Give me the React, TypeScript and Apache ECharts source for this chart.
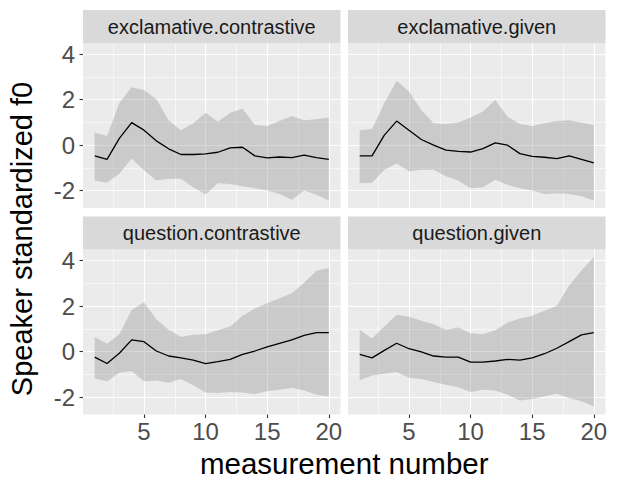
import React, { useEffect, useRef } from "react";
import * as echarts from "echarts";

const measurement = [1, 2, 3, 4, 5, 6, 7, 8, 9, 10, 11, 12, 13, 14, 15, 16, 17, 18, 19, 20];
const facetNames = ["exclamative.contrastive", "exclamative.given", "question.contrastive", "question.given"];

const exclContrMean = [-0.47, -0.62, 0.3, 0.99, 0.66, 0.19, -0.16, -0.41, -0.41, -0.38, -0.31, -0.12, -0.09, -0.47, -0.56, -0.52, -0.55, -0.44, -0.55, -0.62];
const exclContrUpper = [0.56, 0.4, 1.85, 2.55, 2.43, 2.02, 1.1, 0.66, 0.96, 1.43, 1.03, 1.43, 1.6, 0.89, 0.84, 1.06, 1.28, 1.1, 1.14, 1.22];
const exclContrLower = [-1.55, -1.65, -1.25, -0.59, -1.1, -1.55, -1.48, -1.48, -1.85, -2.17, -1.67, -1.7, -1.8, -1.89, -1.99, -2.14, -2.4, -1.99, -2.18, -2.43];

const exclGivenMean = [-0.47, -0.47, 0.44, 1.06, 0.66, 0.25, 0.0, -0.22, -0.27, -0.3, -0.15, 0.1, 0.0, -0.37, -0.49, -0.53, -0.59, -0.47, -0.62, -0.78];
const exclGivenUpper = [0.66, 0.71, 1.85, 2.83, 2.36, 1.55, 0.96, 0.93, 1.0, 1.22, 1.48, 1.99, 1.25, 0.93, 0.84, 0.96, 1.06, 1.1, 0.99, 0.89];
const exclGivenLower = [-1.67, -1.65, -1.08, -0.81, -1.14, -1.08, -1.08, -1.37, -1.55, -1.89, -1.85, -1.52, -1.74, -1.89, -1.99, -2.14, -2.11, -2.14, -2.24, -2.43];

const questContrMean = [-0.24, -0.52, -0.07, 0.52, 0.44, 0.03, -0.19, -0.27, -0.37, -0.52, -0.44, -0.34, -0.12, 0.03, 0.21, 0.37, 0.52, 0.72, 0.84, 0.84];
const questContrUpper = [0.65, 0.35, 0.77, 1.83, 2.17, 1.43, 0.96, 0.65, 0.74, 0.77, 0.94, 1.11, 1.58, 1.9, 2.13, 2.35, 2.57, 3.03, 3.56, 3.68];
const questContrLower = [-1.18, -1.3, -0.93, -0.86, -1.3, -1.27, -1.37, -1.2, -1.48, -1.79, -1.82, -1.77, -1.79, -1.86, -1.74, -1.67, -1.59, -1.71, -1.89, -1.96];

const questGivenMean = [-0.12, -0.27, 0.06, 0.37, 0.13, -0.01, -0.19, -0.24, -0.24, -0.46, -0.46, -0.41, -0.34, -0.37, -0.27, -0.09, 0.15, 0.44, 0.74, 0.84];
const questGivenUpper = [0.96, 0.58, 1.11, 1.62, 1.54, 1.36, 1.21, 0.96, 1.06, 0.81, 0.77, 0.94, 1.28, 1.46, 1.58, 1.8, 2.02, 2.91, 3.57, 4.16];
const questGivenLower = [-1.25, -1.05, -0.97, -0.89, -1.15, -1.2, -1.33, -1.45, -1.56, -1.77, -1.67, -1.71, -1.89, -2.14, -2.08, -1.96, -1.85, -2.04, -2.18, -2.41];

const xTicks = [5, 10, 15, 20];
const xMinorTicks = [2.5, 7.5, 12.5, 17.5];
const yTicks = [-2, 0, 2, 4];
const yMinorTicks = [-1, 1, 3];

const xTitle = "measurement number";
const yTitle = "Speaker standardized f0";

const FONT = "'Liberation Sans', Arial, Helvetica, sans-serif";

const facets = [
  { mean: exclContrMean, upper: exclContrUpper, lower: exclContrLower },
  { mean: exclGivenMean, upper: exclGivenUpper, lower: exclGivenLower },
  { mean: questContrMean, upper: questContrUpper, lower: questContrLower },
  { mean: questGivenMean, upper: questGivenUpper, lower: questGivenLower },
];

// layout
const COL_LEFT = [83, 348];
const COL_W = 257.5;
const ROW_TOP = [43, 249.5];
const ROW_H = 165;
const STRIP_H = 33;
const X_MIN = 0.05;
const X_MAX = 20.95;
const Y_MIN = -2.76;
const Y_MAX = 4.49;

function buildOption() {
  const grid: any[] = [];
  const xAxis: any[] = [];
  const yAxis: any[] = [];
  const series: any[] = [];
  const graphic: any[] = [];

  facets.forEach((f, g) => {
    const col = g % 2;
    const row = Math.floor(g / 2);
    const left = COL_LEFT[col];
    const top = ROW_TOP[row];
    grid.push({
      left,
      top,
      width: COL_W,
      height: ROW_H,
      show: true,
      backgroundColor: "#ebebeb",
      borderWidth: 0,
    });
    const showX = row === 1;
    const showY = col === 0;
    // major x
    xAxis.push({
      type: "value",
      gridIndex: g,
      min: X_MIN,
      max: X_MAX,
      position: "bottom",
      axisLine: { show: false, onZero: false },
      axisTick: {
        show: showX,
        length: 3.5,
        customValues: xTicks,
        lineStyle: { color: "#333333", width: 1.1 },
      },
      axisLabel: {
        show: showX,
        customValues: xTicks,
        margin: 5,
        fontSize: 24,
        color: "#4d4d4d",
        fontFamily: FONT,
      },
      splitLine: { show: true, lineStyle: { color: "#ffffff", width: 1.1 } },
      z: 2,
    });
    // minor x
    xAxis.push({
      type: "value",
      gridIndex: g,
      min: X_MIN,
      max: X_MAX,
      position: "top",
      axisLine: { show: false, onZero: false },
      axisTick: { show: false, customValues: xMinorTicks },
      axisLabel: { show: false, customValues: xMinorTicks },
      splitLine: { show: true, lineStyle: { color: "#ffffff", width: 0.55 } },
      z: 1,
    });
    yAxis.push({
      type: "value",
      gridIndex: g,
      min: Y_MIN,
      max: Y_MAX,
      position: "left",
      axisLine: { show: false, onZero: false },
      axisTick: {
        show: showY,
        length: 3.5,
        customValues: yTicks,
        lineStyle: { color: "#333333", width: 1.1 },
      },
      axisLabel: {
        show: showY,
        customValues: yTicks,
        margin: 8,
        fontSize: 24,
        color: "#4d4d4d",
        fontFamily: FONT,
      },
      splitLine: { show: true, lineStyle: { color: "#ffffff", width: 1.1 } },
      z: 2,
    });
    yAxis.push({
      type: "value",
      gridIndex: g,
      min: Y_MIN,
      max: Y_MAX,
      position: "right",
      axisLine: { show: false, onZero: false },
      axisTick: { show: false, customValues: yMinorTicks },
      axisLabel: { show: false, customValues: yMinorTicks },
      splitLine: { show: true, lineStyle: { color: "#ffffff", width: 0.55 } },
      z: 1,
    });

    const ribbonData = measurement.map((x, i) => [x, f.lower[i], f.upper[i]]);
    series.push({
      type: "custom",
      xAxisIndex: g * 2,
      yAxisIndex: g * 2,
      data: ribbonData,
      z: 3,
      silent: true,
      renderItem: (params: any, api: any) => {
        if (params.dataIndex !== 0) return null;
        const pts: number[][] = [];
        for (let i = 0; i < ribbonData.length; i++) {
          pts.push(api.coord([ribbonData[i][0], ribbonData[i][2]]));
        }
        for (let i = ribbonData.length - 1; i >= 0; i--) {
          pts.push(api.coord([ribbonData[i][0], ribbonData[i][1]]));
        }
        return {
          type: "polygon",
          shape: { points: pts },
          style: { fill: "rgba(127,127,127,0.3)", stroke: "none" },
        };
      },
    });
    series.push({
      type: "line",
      xAxisIndex: g * 2,
      yAxisIndex: g * 2,
      data: measurement.map((x, i) => [x, f.mean[i]]),
      symbol: "none",
      z: 4,
      lineStyle: { color: "#000000", width: 1.3 },
    });

    // strip
    graphic.push({
      type: "rect",
      shape: { x: left, y: top - STRIP_H, width: COL_W, height: STRIP_H },
      style: { fill: "#d9d9d9" },
      silent: true,
    });
    graphic.push({
      type: "text",
      x: left + COL_W / 2,
      y: top - STRIP_H / 2,
      style: {
        text: facetNames[g],
        fill: "#1a1a1a",
        fontSize: 20,
        fontFamily: FONT,
        align: "center",
        verticalAlign: "middle",
      },
      silent: true,
    });
  });

  graphic.push({
    type: "text",
    x: (COL_LEFT[0] + COL_LEFT[1] + COL_W) / 2,
    y: 463,
    style: {
      text: xTitle,
      fill: "#000000",
      fontSize: 29.5,
      fontFamily: FONT,
      align: "center",
      verticalAlign: "middle",
    },
    silent: true,
  });
  graphic.push({
    type: "text",
    x: 22,
    y: 239,
    rotation: Math.PI / 2,
    style: {
      text: yTitle,
      fill: "#000000",
      fontSize: 29,
      fontFamily: FONT,
      align: "center",
      verticalAlign: "middle",
    },
    silent: true,
  });

  return {
    animation: false,
    backgroundColor: "#ffffff",
    grid,
    xAxis,
    yAxis,
    series,
    graphic,
  };
}

export default function App() {
  const ref = useRef<HTMLDivElement>(null);
  useEffect(() => {
    document.body.style.margin = "0";
    document.body.style.overflow = "hidden";
    if (!ref.current) return;
    const chart = echarts.init(ref.current, null, { renderer: "svg" });
    chart.setOption(buildOption() as any);
    return () => chart.dispose();
  }, []);
  return <div ref={ref} style={{ width: 620, height: 480 }} />;
}
